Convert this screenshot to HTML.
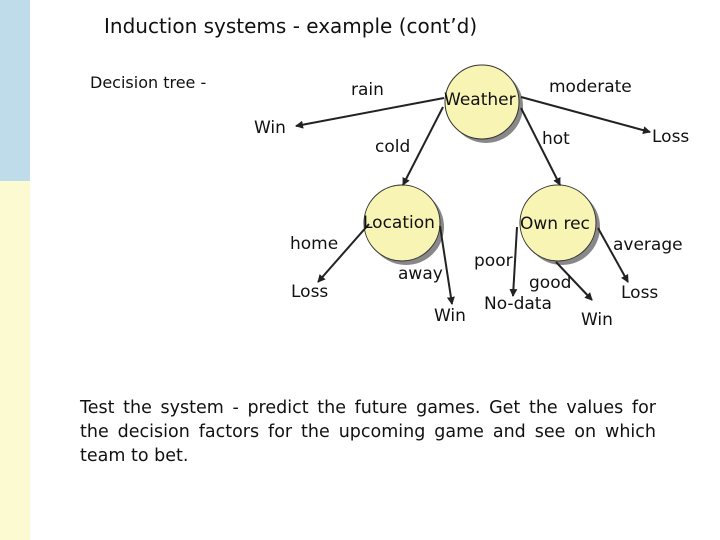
<!DOCTYPE html>
<html><head><style>
body{margin:0;width:720px;height:540px;position:relative;background:#fff;font-family:"DejaVu Sans","Liberation Sans",sans-serif;color:#111;overflow:hidden}
.t{position:absolute;white-space:nowrap}
</style></head><body>
<div style="position:absolute;left:0;top:0;width:30px;height:181px;background:#bfdcea"></div>
<div style="position:absolute;left:0;top:181px;width:30px;height:359px;background:#fbfad0"></div>
<div class="t" style="left:104px;top:14px;font-size:20px">Induction systems - example (cont’d)</div>
<div class="t" style="left:90px;top:73px;font-size:16px">Decision tree -</div>
<svg width="720" height="540" style="position:absolute;left:0;top:0">
<defs><marker id="a" markerWidth="8" markerHeight="8" refX="7" refY="4" orient="auto" markerUnits="userSpaceOnUse"><path d="M0,0L8,4L0,8z" fill="#222"/></marker></defs>
<g fill="#888"><circle cx="486" cy="106" r="37"/><circle cx="406" cy="227" r="38"/><circle cx="562" cy="227" r="38"/></g>
<g fill="#f8f4b4" stroke="#333" stroke-width="1"><circle cx="482" cy="102" r="37"/><circle cx="402" cy="223" r="38"/><circle cx="558" cy="223" r="38"/></g>
<g stroke="#222" stroke-width="2" marker-end="url(#a)">
<line x1="444" y1="98" x2="296" y2="126"/>
<line x1="443" y1="107" x2="403" y2="185"/>
<line x1="521" y1="108" x2="560" y2="185"/>
<line x1="521" y1="97" x2="650" y2="132"/>
<line x1="369" y1="224" x2="318" y2="282"/>
<line x1="440" y1="226" x2="452" y2="304"/>
<line x1="517" y1="227" x2="513" y2="296"/>
<line x1="556" y1="262" x2="592" y2="300"/>
<line x1="598" y1="228" x2="628" y2="282"/>
</g>
</svg>
<div class="t" style="left:351px;top:80px;font-size:17px">rain</div>
<div class="t" style="left:444px;top:90px;font-size:17px">Weather</div>
<div class="t" style="left:549px;top:77px;font-size:17px">moderate</div>
<div class="t" style="left:254px;top:118px;font-size:17px">Win</div>
<div class="t" style="left:375px;top:137px;font-size:17px">cold</div>
<div class="t" style="left:542px;top:129px;font-size:17px">hot</div>
<div class="t" style="left:652px;top:127px;font-size:17px">Loss</div>
<div class="t" style="left:363px;top:213px;font-size:17px">Location</div>
<div class="t" style="left:520px;top:214px;font-size:17px">Own rec</div>
<div class="t" style="left:290px;top:234px;font-size:17px">home</div>
<div class="t" style="left:613px;top:235px;font-size:17px">average</div>
<div class="t" style="left:474px;top:251px;font-size:17px">poor</div>
<div class="t" style="left:398px;top:264px;font-size:17px">away</div>
<div class="t" style="left:529px;top:273px;font-size:17px">good</div>
<div class="t" style="left:291px;top:282px;font-size:17px">Loss</div>
<div class="t" style="left:621px;top:283px;font-size:17px">Loss</div>
<div class="t" style="left:484px;top:294px;font-size:17px">No-data</div>
<div class="t" style="left:434px;top:306px;font-size:17px">Win</div>
<div class="t" style="left:581px;top:310px;font-size:17px">Win</div>
<div style="position:absolute;left:80px;top:396px;width:576px;font-size:17.5px;line-height:24px;text-align:justify">Test the system - predict the future games. Get the values for the decision factors for the upcoming game and see on which team to bet.</div>
</body></html>
